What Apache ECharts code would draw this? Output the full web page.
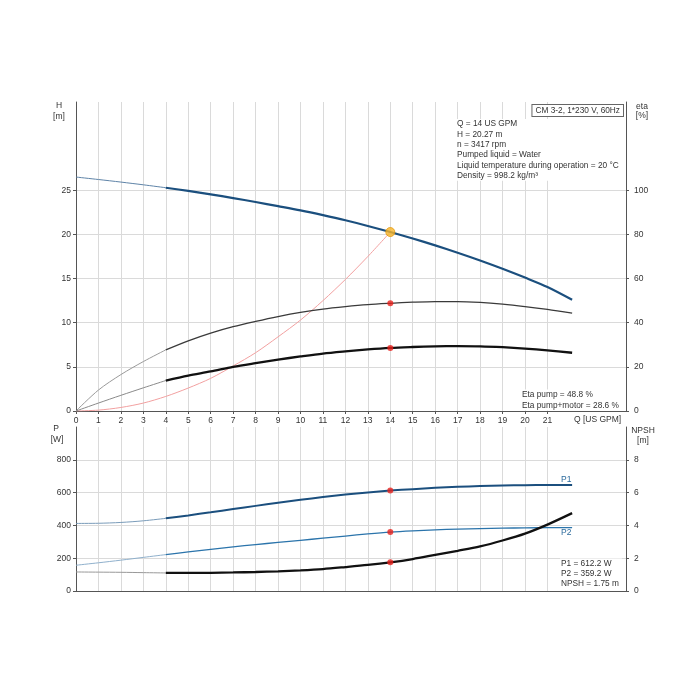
<!DOCTYPE html>
<html>
<head>
<meta charset="utf-8">
<script src="https://cdn.jsdelivr.net/npm/echarts@6/dist/echarts.min.js"></script>
<style>html,body{margin:0;padding:0;background:#fff}#c{width:700px;height:700px}</style>
</head>
<body>
<div id="c"></div>
<script>
// ---- data ----
const Q        = [0,1,2,3,4,5,6,7,8,9,10,11,12,13,14,15,16,17,18,19,20,21,22.1];
const H        = [26.5,26.22,25.93,25.62,25.29,24.93,24.54,24.12,23.67,23.2,22.72,22.18,21.6,20.96,20.27,19.54,18.76,17.93,17.05,16.11,15.11,14.05,12.6];
const etaPump  = [0,9.5,16.5,22.4,27.7,31.8,35.3,38.2,40.6,42.8,44.7,46.2,47.3,48.2,48.8,49.3,49.6,49.6,49.2,48.4,47.3,46.0,44.3];
const etaPM    = [0,3.6,7.1,10.5,13.8,16.0,17.9,20.0,21.7,23.3,24.7,26.0,27.0,27.9,28.6,29.0,29.3,29.4,29.3,28.9,28.3,27.5,26.4];
const Qsys     = [0,1,2,3,4,5,6,7,8,9,10,11,12,13,14];
const Hsys     = [0,0.1,0.4,0.9,1.65,2.6,3.7,5.1,6.6,8.4,10.3,12.5,14.9,17.5,20.27];
const P1       = [412,413,418,428,443,461,480,500,519,538,556,573,588,601,612.2,621,629,635,640,643,645,646,646];
const P2       = [157,172,188,205,222,238,254,269,283,296,309,322,335,348,359.2,367,373,377,380,383,385,386,386];
const NPSH     = [1.16,1.15,1.14,1.12,1.10,1.10,1.11,1.13,1.16,1.20,1.26,1.34,1.46,1.59,1.75,1.95,2.2,2.45,2.72,3.08,3.5,4.05,4.75];
const opIndex  = 14; // duty point Q = 14 US GPM
const splitIndex = 4; // curves drawn thin below this Q index
const xTickLabels   = [0,1,2,3,4,5,6,7,8,9,10,11,12,13,14,15,16,17,18,19,20,21];
const hTickLabels   = [0,5,10,15,20,25];
const etaTickLabels = [0,20,40,60,80,100];
const pTickLabels   = [0,200,400,600,800];
const npshTickLabels= [0,2,4,6,8];

const infoLines = ['Q = 14 US GPM','H = 20.27 m','n = 3417 rpm','Pumped liquid = Water','Liquid temperature during operation = 20 °C','Density = 998.2 kg/m³'];
const etaLines  = ['Eta pump = 48.8 %','Eta pump+motor = 28.6 %'];
const powLines  = ['P1 = 612.2 W','P2 = 359.2 W','NPSH = 1.75 m'];
const title     = 'CM 3-2, 1*230 V, 60Hz';

// ---- helpers ----
const pairs = (xs, ys) => ys.map((y, i) => [xs[i], y]);
const thin  = (ys) => pairs(Q, ys).slice(0, splitIndex + 1);
const thick = (ys) => pairs(Q, ys).slice(splitIndex);
const FONT = 'Liberation Sans, Arial, sans-serif';
const TXT = '#333';
const AX = '#555';
const GRIDC = '#dadada';

function xAx(gi, labels) {
  return {
    gridIndex: gi, type: 'value', min: 0, max: 24.5, interval: 1,
    axisLine: {show: true, onZero: false, lineStyle: {color: AX, width: 1}},
    axisTick: {show: labels, length: 3, customValues: xTickLabels, lineStyle: {color: AX}},
    axisLabel: {show: labels, customValues: xTickLabels, fontSize: 8.5, color: TXT, fontFamily: FONT, margin: 5},
    splitLine: {show: true, lineStyle: {color: GRIDC, width: 1}}
  };
}
function yAx(gi, pos, max, interval, labels, split) {
  return {
    gridIndex: gi, type: 'value', position: pos, min: 0, max: max, interval: interval,
    axisLine: {show: true, onZero: false, lineStyle: {color: AX, width: 1}},
    axisTick: {show: true, length: 3, customValues: labels, lineStyle: {color: AX}},
    axisLabel: {customValues: labels, fontSize: 8.5, color: TXT, fontFamily: FONT, margin: pos === 'left' ? 5 : 8},
    splitLine: {show: split, lineStyle: {color: GRIDC, width: 1}}
  };
}
function line(name, data, xi, yi, color, width, z) {
  return {name, type: 'line', xAxisIndex: xi, yAxisIndex: yi, data, smooth: 0.3,
    showSymbol: false, symbol: 'none', lineStyle: {color, width}, z: z || 2, silent: true};
}
function dot(data, xi, yi, color, size, border) {
  return {type: 'scatter', xAxisIndex: xi, yAxisIndex: yi, data, symbolSize: size,
    itemStyle: {color, borderColor: border || color, borderWidth: border ? 1 : 0}, z: 10, silent: true};
}
function txt(x, y, text, opts) {
  return Object.assign({type: 'text', x, y, z: 50, silent: true,
    style: Object.assign({text, fontSize: 8.5, fontFamily: FONT, fill: TXT, textAlign: 'left', textVerticalAlign: 'middle'}, opts || {})});
}

const chart = echarts.init(document.getElementById('c'), null, {renderer: 'canvas'});
chart.setOption({
  animation: false,
  backgroundColor: '#fff',
  grid: [
    {left: 76, top: 102, width: 550, height: 309, containLabel: false},
    {left: 76, top: 427, width: 550, height: 164, containLabel: false}
  ],
  xAxis: [xAx(0, true), xAx(1, false)],
  yAxis: [
    yAx(0, 'left', 35, 5, hTickLabels, true),
    yAx(0, 'right', 140, 20, etaTickLabels, false),
    yAx(1, 'left', 1000, 200, pTickLabels, true),
    yAx(1, 'right', 10, 2, npshTickLabels, false)
  ],
  series: [
    line('system', pairs(Qsys, Hsys), 0, 0, '#f2a0a0', 1, 2),
    line('H thin', thin(H), 0, 0, '#5f84a8', 1, 3),
    line('H', thick(H), 0, 0, '#1b4f7e', 2.2, 4),
    line('eta pump thin', thin(etaPump), 0, 1, '#9a9a9a', 1, 3),
    line('eta pump', thick(etaPump), 0, 1, '#3a3a3a', 1.3, 4),
    line('eta pm thin', thin(etaPM), 0, 1, '#8a8a8a', 1, 3),
    line('eta pm', thick(etaPM), 0, 1, '#111111', 2.3, 4),
    dot([[Q[opIndex], etaPump[opIndex]], [Q[opIndex], etaPM[opIndex]]], 0, 1, '#e8201c', 6),
    dot([[Q[opIndex], H[opIndex]]], 0, 0, '#f7b52b', 9, '#e39a10'),
    line('P1 thin', thin(P1), 1, 2, '#7a9cba', 1, 3),
    line('P1', thick(P1), 1, 2, '#1b4f7e', 2, 4),
    line('P2 thin', thin(P2), 1, 2, '#8fb0cc', 1, 3),
    line('P2', thick(P2), 1, 2, '#2b74ab', 1.3, 4),
    line('NPSH thin', thin(NPSH), 1, 3, '#999999', 1, 3),
    line('NPSH', thick(NPSH), 1, 3, '#111111', 2.3, 4),
    dot([[Q[opIndex], P1[opIndex]], [Q[opIndex], P2[opIndex]]], 1, 2, '#e8201c', 6),
    dot([[Q[opIndex], NPSH[opIndex]]], 1, 3, '#e8201c', 6)
  ],
  graphic: [
    txt(59, 106, 'H', {textAlign: 'center'}),
    txt(59, 116.5, '[m]', {textAlign: 'center'}),
    txt(642, 106.5, 'eta', {textAlign: 'center'}),
    txt(642, 115.5, '[%]', {textAlign: 'center'}),
    txt(56, 428.5, 'P', {textAlign: 'center'}),
    txt(57, 440, '[W]', {textAlign: 'center'}),
    txt(643, 430.5, 'NPSH', {textAlign: 'center'}),
    txt(643, 441, '[m]', {textAlign: 'center'}),
    txt(574, 420, 'Q [US GPM]'),
    txt(623, 110.5, title, {textAlign: 'right', fontSize: 8.3, backgroundColor: '#fff', borderColor: '#666', borderWidth: 1, padding: [2, 3, 1, 3]}),
    txt(456, 119, infoLines.join('\n'), {textVerticalAlign: 'top', lineHeight: 10.3, fontSize: 8.3, backgroundColor: '#fff', padding: [0, 2, 0, 1]}),
    txt(521, 389.5, etaLines.join('\n'), {textVerticalAlign: 'top', lineHeight: 10.5, fontSize: 8.3, backgroundColor: '#fff', padding: [0, 3, 0, 1]}),
    txt(560, 558.5, powLines.join('\n'), {textVerticalAlign: 'top', lineHeight: 10.2, fontSize: 8.3, backgroundColor: '#fff', padding: [0, 3, 0, 1]}),
    txt(561, 479.5, 'P1', {fill: '#2b6a9c'}),
    txt(561, 533, 'P2', {fill: '#2b6a9c'})
  ]
});
</script>
</body>
</html>
